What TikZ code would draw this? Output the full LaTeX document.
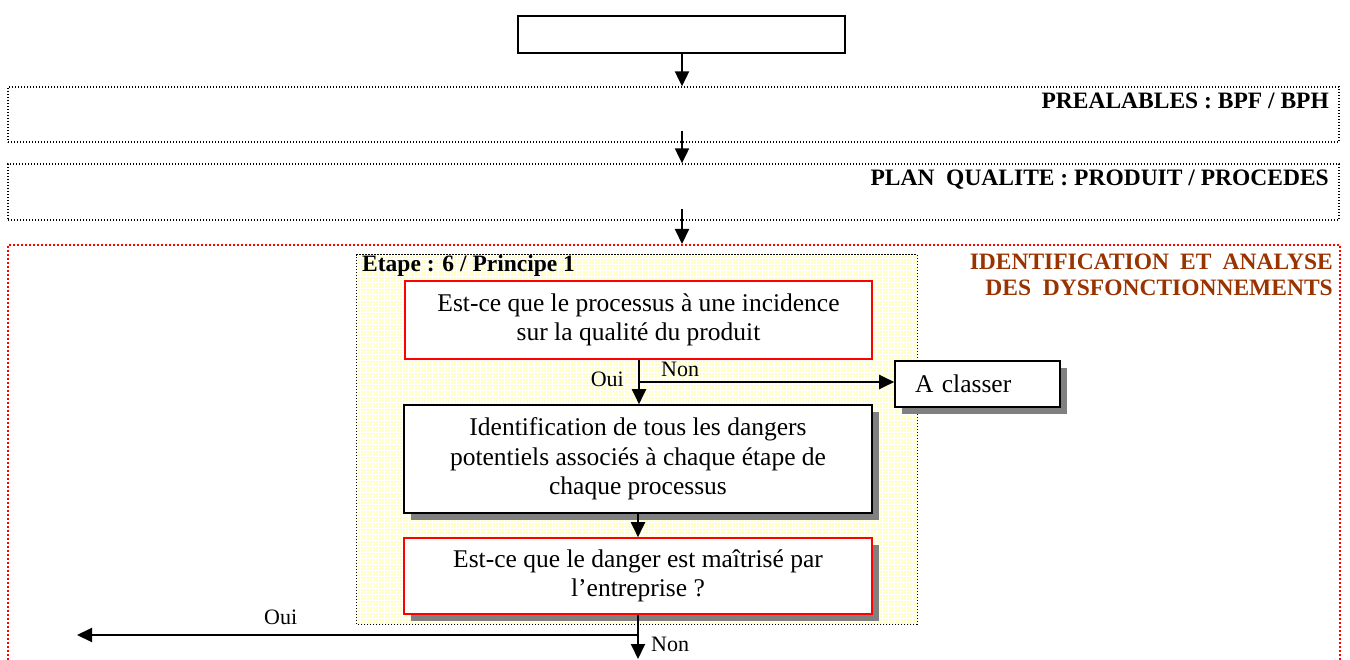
\documentclass[tikz,border=0pt]{standalone}
\usepackage{fontspec}
\setmainfont{Liberation Serif}
\usetikzlibrary{arrows.meta,shadows,calc}
\definecolor{pale}{RGB}{255,255,196}
\definecolor{rust}{RGB}{153,51,0}
\definecolor{shade}{RGB}{128,128,128}
\tikzset{
  arr/.style={line width=2pt, -{Triangle[width=14pt,length=15pt]}},
  solidbox/.style={draw, line width=1.6pt, fill=white, inner sep=0pt, align=center,
    font=\fontsize{25.5}{29.5}\selectfont},
  redbox/.style={solidbox, draw=red},
  shadowed/.style={drop shadow={shadow xshift=7pt, shadow yshift=-7pt, fill=shade, opacity=1}},
  dotbox/.style={draw, line width=1.3pt, dash pattern=on 1.3pt off 1.7pt, inner sep=0pt},
  reddots/.style={draw=red, line width=2pt, dash pattern=on 2pt off 2pt, inner sep=0pt},
  head/.style={font=\fontsize{23.5}{28}\selectfont\bfseries, inner sep=0pt},
  small/.style={font=\fontsize{22}{26}\selectfont, inner sep=0pt},
}
\begin{document}
\begin{tikzpicture}[x=1pt,y=-1pt]
\path[use as bounding box, clip] (0,0) rectangle (1350,660);

% top box
\node[solidbox, minimum width=327pt, minimum height=37pt] (top) at (681.5,34.5) {};

% prerequisite bands
\node[dotbox, minimum width=1331pt, minimum height=55pt] (pre) at (673.5,114.5) {};
\node[head, anchor=base east] (prelab) at (1329,109) {PREALABLES : BPF / BPH};
\node[dotbox, minimum width=1331pt, minimum height=56pt] (plan) at (673.5,192) {};
\node[head, anchor=base east] (planlab) at (1329,186) {PLAN\ \ QUALITE : PRODUIT / PROCEDES};

% identification zone (open at the bottom)
\node[reddots, minimum width=1332pt, minimum height=455pt] (zone) at (674,472.5) {};
\node[head, text=rust, anchor=base east] (zl1) at (1333,270)
  {\makebox[363pt][s]{IDENTIFICATION ET ANALYSE}};
\node[head, text=rust, anchor=base east] (zl2) at (1333,296)
  {DES\ \ DYSFONCTIONNEMENTS};

% step 6 area
\node[fill=pale, minimum width=560pt, minimum height=369pt, inner sep=0pt] (stage) at (637,439.5) {};
\begin{scope}
  \clip (stage.south west) rectangle (stage.north east);
  \draw[white, line width=0.8pt] (stage.south west) grid[step=3pt] (stage.north east);
\end{scope}
\draw[dotbox] (stage.south west) rectangle (stage.north east);
\node[head, anchor=base west] (steplab) at (362,272) {Etape : 6 / Principe 1};

% flow boxes
\node[redbox, minimum width=467pt, minimum height=78pt] (q1) at (638.5,320)
  {Est-ce que le processus à une incidence\\sur la qualité du produit};
\node[solidbox, shadowed, minimum width=468pt, minimum height=108pt] (ident) at (638,459)
  {Identification de tous les dangers\\potentiels associés à chaque étape de\\chaque processus};
\node[redbox, shadowed, minimum width=468pt, minimum height=76pt] (q2) at (638,576)
  {Est-ce que le danger est maîtrisé par\\l’entreprise ?};
\node[solidbox, shadowed, minimum width=165pt, minimum height=46pt, align=left,
      text width=125pt, inner xsep=20pt] (classer) at (977.5,384) {A classer};

% connectors between bands
\coordinate (a2) at (682,131);
\coordinate (a3) at (682,209);
\draw[arr] (top.south -| a2) -- (pre.north -| a2);
\draw[arr] (a2) -- (plan.north -| a2);
\draw[arr] (a3) -- (zone.north -| a3);

% connectors inside the zone
\coordinate (br) at (639,382);
\draw[arr] (q1.south -| br) -- (ident.north -| br);
\draw[arr] (br) -- (br -| classer.west);
\node[small, anchor=base east] (oui1) at (624,386) {Oui};
\node[small, anchor=base west] (non1) at (661,377) {Non};

\draw[arr] (ident.south) -- (q2.north);
\coordinate (down) at (638,659);
\coordinate (jn) at (638,635);
\coordinate (out) at (77,635);
\draw[arr] (q2.south) -- (down);
\draw[arr] (jn) -- (out);
\node[small, anchor=base west] (oui2) at (264,624) {Oui};
\node[small, anchor=base west] (non2) at (651,651) {Non};
\end{tikzpicture}
\end{document}
